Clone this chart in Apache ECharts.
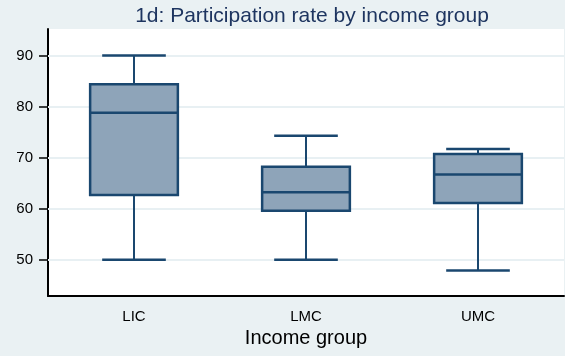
<!DOCTYPE html>
<html>
<head>
<meta charset="utf-8">
<style>
  html, body { margin: 0; padding: 0; background: #eaf1f3; }
  #chart { width: 565px; height: 356px; }
</style>
<script src="https://cdn.jsdelivr.net/npm/echarts@6/dist/echarts.min.js"></script>
</head>
<body>
<div id="chart"></div>
<script>
// Participation rate by income group: five-number summaries per group
const categories = ['LIC', 'LMC', 'UMC'];
const whiskerLow  = [50.0, 50.0, 47.9];
const quartile1   = [62.7, 59.6, 61.1];
const medians     = [78.8, 63.2, 66.7];
const quartile3   = [84.4, 68.2, 70.7];
const whiskerHigh = [90.0, 74.3, 71.7];
const yTicks = [50, 60, 70, 80, 90];

const navy = '#1a476f';
const boxFill = '#8ea4b9';
const font = 'Liberation Sans, Arial, sans-serif';

const data = categories.map((c, i) => [i, whiskerLow[i], quartile1[i], medians[i], quartile3[i], whiskerHigh[i]]);

function renderBox(params, api) {
  const x = api.value(0);
  const lo = api.coord([x, api.value(1)]);
  const q1 = api.coord([x, api.value(2)]);
  const md = api.coord([x, api.value(3)]);
  const q3 = api.coord([x, api.value(4)]);
  const hi = api.coord([x, api.value(5)]);
  const band = api.size([1, 0])[0];
  const boxW = band * 0.51;
  const capW = band * 0.37;
  const cx = lo[0];
  const lineStyle = { stroke: navy, lineWidth: 2, fill: null };
  return {
    type: 'group',
    children: [
      { type: 'line', shape: { x1: cx, y1: lo[1], x2: cx, y2: q1[1] }, style: lineStyle },
      { type: 'line', shape: { x1: cx, y1: q3[1], x2: cx, y2: hi[1] }, style: lineStyle },
      { type: 'line', shape: { x1: cx - capW / 2, y1: lo[1], x2: cx + capW / 2, y2: lo[1] }, style: { stroke: navy, lineWidth: 2.5 } },
      { type: 'line', shape: { x1: cx - capW / 2, y1: hi[1], x2: cx + capW / 2, y2: hi[1] }, style: { stroke: navy, lineWidth: 2.5 } },
      { type: 'rect', shape: { x: cx - boxW / 2, y: q3[1], width: boxW, height: q1[1] - q3[1] },
        style: { fill: boxFill, stroke: navy, lineWidth: 2.5 } },
      { type: 'line', shape: { x1: cx - boxW / 2, y1: md[1], x2: cx + boxW / 2, y2: md[1] }, style: { stroke: navy, lineWidth: 2.5 } }
    ]
  };
}

const chart = echarts.init(document.getElementById('chart'), null, { renderer: 'canvas' });
chart.setOption({
  backgroundColor: '#eaf1f3',
  animation: false,
  title: {
    text: '1d: Participation rate by income group',
    left: 307,
    textAlign: 'center',
    top: 1,
    textStyle: { fontFamily: font, fontWeight: 'normal', fontSize: 21, color: '#1e3560' }
  },
  grid: { left: 48, right: 1, top: 29, bottom: 60, show: true, backgroundColor: '#ffffff', borderWidth: 0 },
  xAxis: {
    type: 'category',
    data: categories,
    name: 'Income group',
    nameLocation: 'middle',
    nameGap: 32,
    nameTextStyle: { fontFamily: font, fontSize: 20, color: '#000' },
    axisLine: { show: true, lineStyle: { color: '#000', width: 2 } },
    axisTick: { show: false },
    axisLabel: { fontFamily: font, fontSize: 15, color: '#000', margin: 13 },
    splitLine: { show: false }
  },
  yAxis: {
    type: 'value',
    min: 42.9,
    max: 95.2,
    axisLine: { show: true, lineStyle: { color: '#000', width: 2 } },
    axisTick: { show: true, length: 9, lineStyle: { color: '#000', width: 1.5 }, customValues: yTicks },
    axisLabel: { fontFamily: font, fontSize: 15, color: '#000', margin: 15, customValues: yTicks },
    splitLine: { show: false }
  },
  series: [
    {
      type: 'line',
      data: [],
      silent: true,
      markLine: {
        silent: true,
        symbol: 'none',
        label: { show: false },
        lineStyle: { color: '#e8f0f3', width: 2, type: 'solid' },
        data: yTicks.map(v => ({ yAxis: v }))
      }
    },
    {
      type: 'custom',
      renderItem: renderBox,
      encode: { x: 0, y: [1, 2, 3, 4, 5] },
      data: data,
      z: 5
    }
  ]
});
</script>
</body>
</html>
